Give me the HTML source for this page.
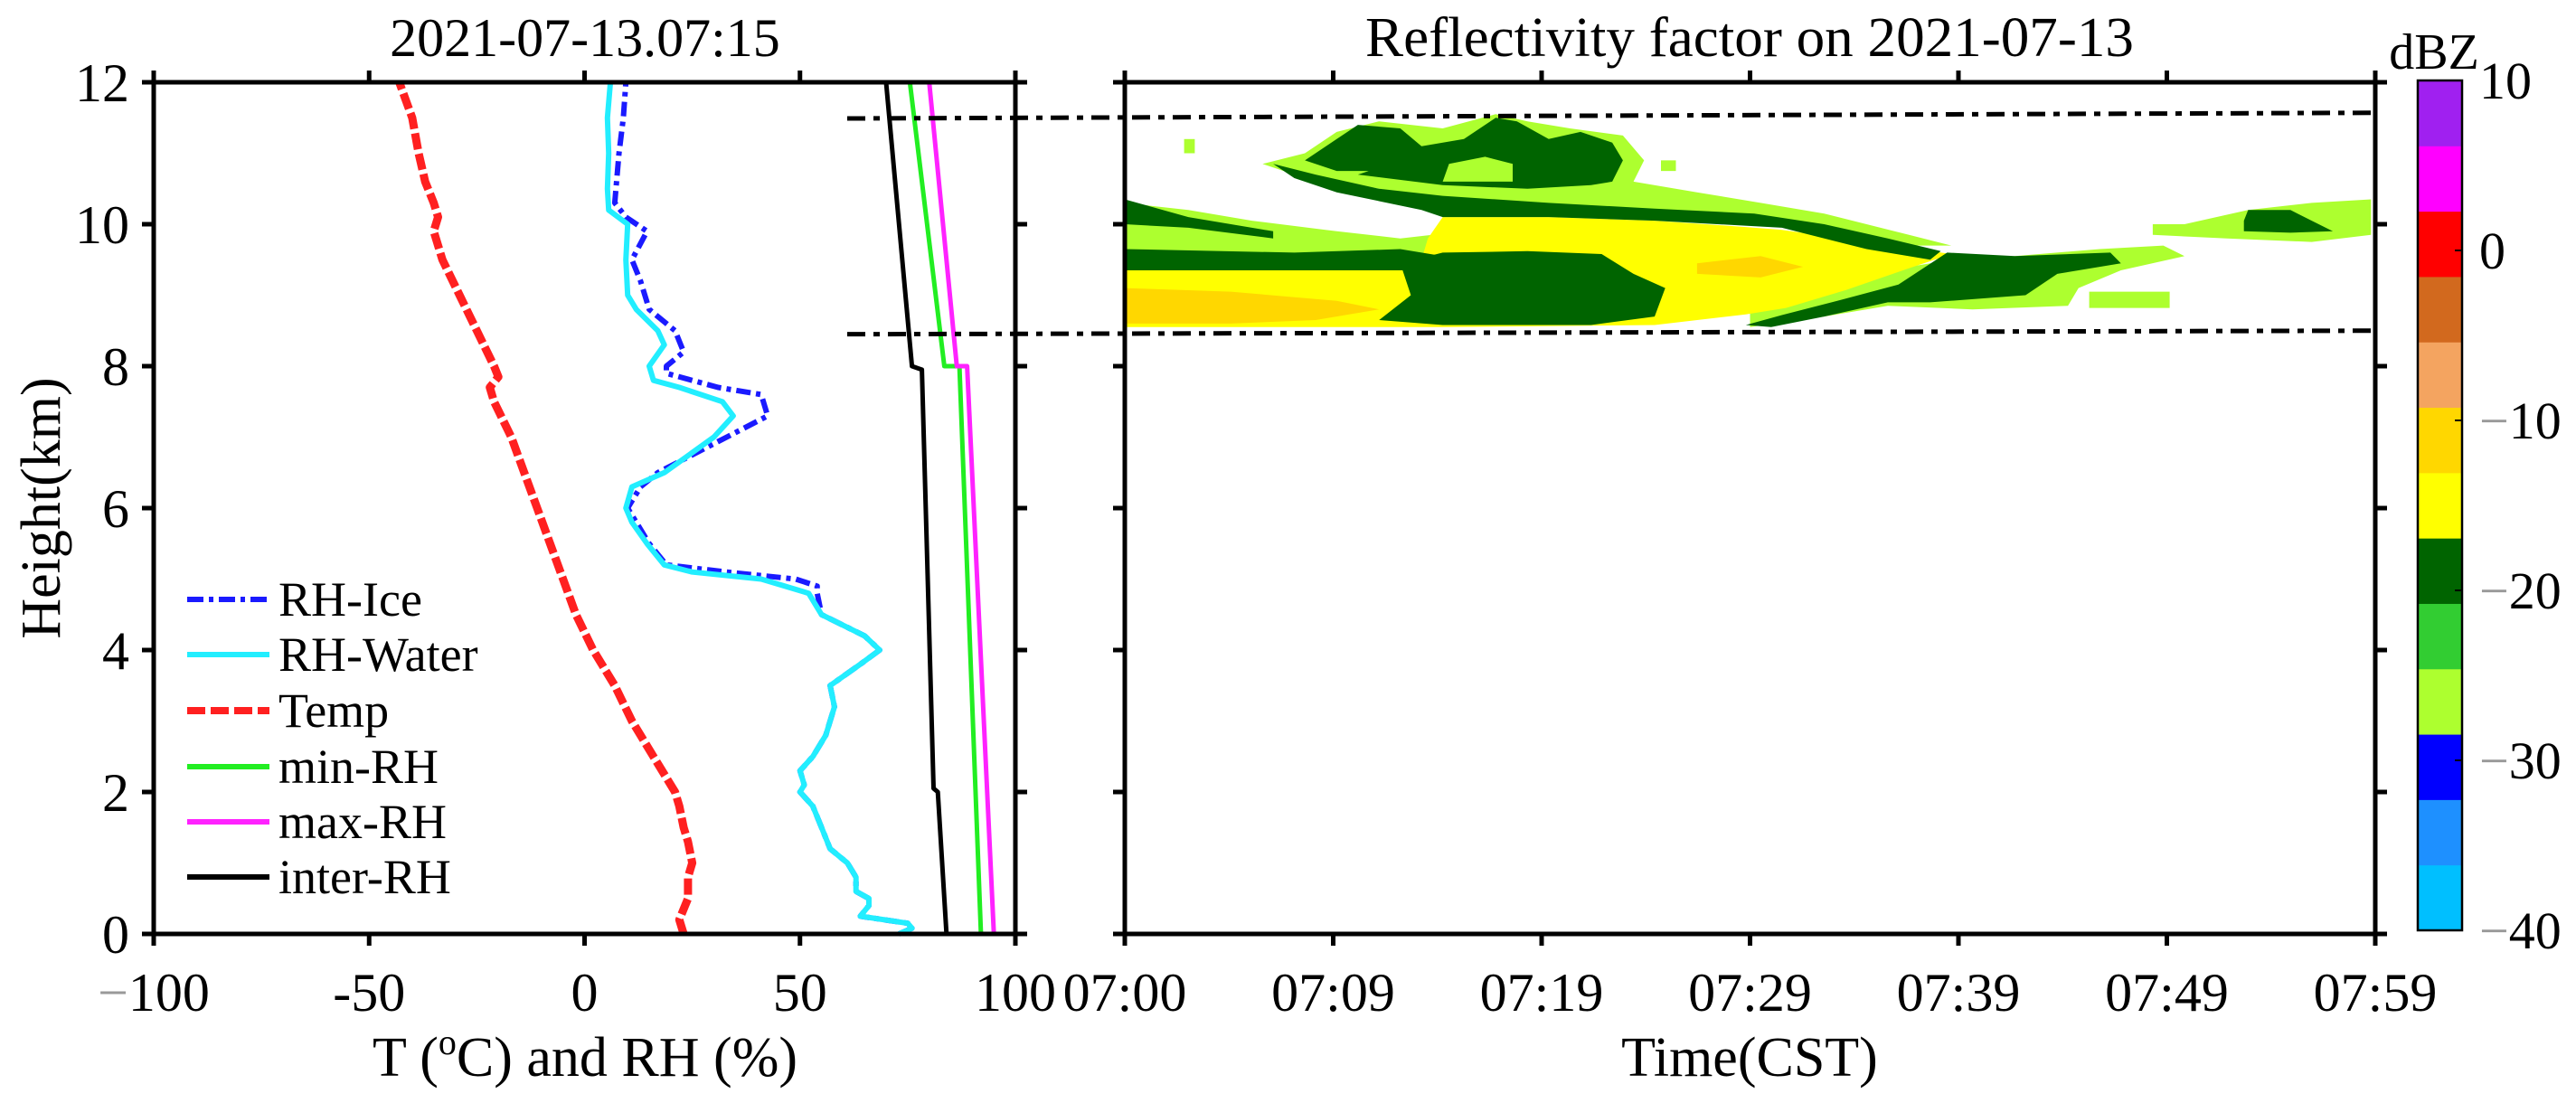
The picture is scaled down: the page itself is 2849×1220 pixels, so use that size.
<!DOCTYPE html>
<html><head><meta charset="utf-8"><style>
html,body{margin:0;padding:0;background:#fff;}
svg{display:block;font-family:"Liberation Serif",serif;}
</style></head>
<body>
<svg id="fig" width="2849" height="1220" viewBox="0 0 2849 1220" xmlns="http://www.w3.org/2000/svg">
<rect x="0" y="0" width="2849" height="1220" fill="#fff"/>
<g id="heat"></g>
<g id="lines"></g>
<g id="axes"></g>
<g id="cbar"></g>
<text x="647" y="62" font-size="60" text-anchor="middle">2021-07-13.07:15</text>
<text x="1935" y="62" font-size="62" text-anchor="middle" textLength="850" lengthAdjust="spacingAndGlyphs">Reflectivity factor on 2021-07-13</text>
<text x="647" y="1190" font-size="62" text-anchor="middle">T (<tspan font-size="40" dy="-24">o</tspan><tspan dy="24">C) and RH (%)</tspan></text>
<text x="1935" y="1190" font-size="62" text-anchor="middle">Time(CST)</text>
<text x="0" y="0" font-size="62" text-anchor="middle" transform="translate(66,562) rotate(-90)">Height(km)</text>
<text x="2692" y="76" font-size="56" text-anchor="middle">dBZ</text>
<g id="legend">
  <g><line x1="207" y1="663" x2="298" y2="663" stroke="#1a1aff" stroke-width="6" stroke-dasharray="18 6 5 6"/><text x="308" y="681" font-size="54">RH-Ice</text></g>
  <g><line x1="207" y1="724" x2="298" y2="724" stroke="#22eeff" stroke-width="6"/><text x="308" y="742" font-size="54">RH-Water</text></g>
  <g><line x1="207" y1="786" x2="298" y2="786" stroke="#ff2020" stroke-width="8" stroke-dasharray="20 6"/><text x="308" y="804" font-size="54">Temp</text></g>
  <g><line x1="207" y1="848" x2="298" y2="848" stroke="#22ee22" stroke-width="6"/><text x="308" y="866" font-size="54">min-RH</text></g>
  <g><line x1="207" y1="909" x2="298" y2="909" stroke="#ff22ff" stroke-width="6"/><text x="308" y="927" font-size="54">max-RH</text></g>
  <g><line x1="207" y1="970" x2="298" y2="970" stroke="#000" stroke-width="6"/><text x="308" y="988" font-size="54">inter-RH</text></g>
</g>
</svg>
<script>
// ---------- data ----------
const tempH = [0,0.2,0.5,0.8,1,1.3,1.5,1.8,2,2.3,2.5,3,3.5,4,4.5,5,5.5,6,6.5,7,7.5,7.7,7.85,8,8.5,9,9.5,9.9,10.1,10.3,10.6,11,11.5,12];
const tempV = [23,22,24,24,25,24,23,22,21,18,16,11,7,2,-2,-5,-8,-11,-14,-17,-21,-22,-20,-21,-25,-29,-33,-35,-34,-35,-37,-38.5,-40,-43];
const waterH = [0,0.08,0.15,0.25,0.4,0.5,0.6,0.8,1.0,1.2,1.5,1.8,2.0,2.1,2.3,2.5,2.8,3.0,3.2,3.5,3.8,4.0,4.2,4.5,4.8,5.0,5.1,5.2,5.5,5.8,6.0,6.3,6.5,7.0,7.3,7.5,7.7,7.8,8.0,8.3,8.5,8.8,9.0,9.5,10.0,10.2,10.5,11.0,11.5,12];
const waterV = [73,76,75,64,66,66,63,63,61,57,55,53,50,51,50,53,56,57,58,57,64,68.5,65,55,52,41,25,18.5,14.5,11,9.6,11,18.5,30,34.5,32,22,16,15,18.5,17,12,10,9.6,10,5.6,5.3,5.6,5.3,6];
const iceH = [0,0.08,0.15,0.25,0.4,0.5,0.6,0.8,1.0,1.2,1.5,1.8,2.0,2.1,2.3,2.5,2.8,3.0,3.2,3.5,3.8,4.0,4.2,4.5,4.8,4.9,5.0,5.1,5.2,5.5,5.8,6.0,6.3,6.5,7.0,7.3,7.6,7.7,7.9,8.0,8.2,8.5,8.8,9.2,9.5,9.9,10.1,10.3,11,11.5,12];
const iceV = [73,76,75,64,66,66,63,63,61,57,55,53,50,51,50,53,56,57,58,57,64,68.5,65,55,54,54,49,33,19,15,12,10,13,17,33,42.5,41,31,19,19,23,21,15,13,11,14.5,9.6,7,8,9,9.6];
const minH = [0,8,8,12];
const minV = [92,87,83.5,75.5];
const maxH = [0,8,8,12];
const maxV = [95,88.8,86.4,80];
const interH = [0,2,2.05,7.95,8,12];
const interV = [84,82,81,78.3,76,70];
const cloudTopH = [11.49, 11.57];
const cloudBaseH = [8.45, 8.5];
const xTicksL = [-100,-50,0,50,100];
const xTickLabelsL = ["\u2212100","-50","0","50","100"];
const yTicks = [0,2,4,6,8,10,12];
const timeTicks = [0,9.833,19.667,29.5,39.333,49.167,59];
const timeLabels = ["07:00","07:09","07:19","07:29","07:39","07:49","07:59"];
const cbarColors = ["#00bfff","#1e90ff","#0000ff","#adff2f","#32cd32","#006400","#ffff00","#ffd700","#f4a460","#d2691e","#ff0000","#ff00ff","#a020f0"];
const cbarTicks = [-40,-30,-20,-10,0,10];
const regionLevels = [-26,-26,-26,-26,-26,-15,-19,-19,-26,-19,-26,-19,-19,-19,-19,-11,-11,-26,-26];
const regionShapes = [
 [[0,9.55],[0,10.3],[3,10.2],[6,10.05],[10,9.9],[13,9.8],[14.5,9.85],[14.5,9.5],[0,9.45]],
 [[6.5,10.85],[8.5,11.0],[10,11.3],[12,11.45],[15,11.35],[17.5,11.55],[19,11.45],[21,11.35],[23.5,11.25],[24.5,10.9],[24,10.6],[27,10.45],[30,10.3],[33,10.15],[37,9.85],[39,9.7],[36,9.7],[30,10.05],[25,10.15],[20,10.25],[15,10.35],[11,10.55],[8,10.7]],
 [[29.5,8.55],[33,8.7],[36,8.85],[40,8.8],[44.5,8.85],[45,9.1],[47,9.35],[50,9.55],[49,9.7],[46,9.65],[42,9.55],[38,9.45],[35,9.3],[32,9.0],[29.5,8.75]],
 [[45.5,8.82],[49.3,8.82],[49.3,9.05],[45.5,9.05]],
 [[48.5,9.85],[52,9.8],[56,9.75],[58.8,9.85],[58.8,10.35],[56,10.3],[53,10.2],[50,10.0],[48.5,10.0]],
 [[0,8.55],[15,8.55],[25,8.58],[29.3,8.73],[31.2,8.82],[34,9.07],[36.9,9.37],[39,9.58],[35,9.75],[31,9.92],[29.3,9.96],[25,10.05],[20,10.1],[15,10.1],[14.3,9.8],[14,9.5],[13,9.4],[8,9.38],[0,9.4]],
 [[0,10.0],[3,9.95],[7,9.8],[7,9.9],[3,10.1],[0,10.35]],
 [[0,9.35],[14,9.35],[15,9.55],[13,9.65],[8,9.6],[0,9.65]],
 [[10,10.9],[12,11.1],[14,10.95],[17,11.1],[20,11.05],[22,10.95],[22,10.7],[18,10.6],[14,10.6],[11,10.7]],
 [[8.5,10.9],[10,11.2],[11,11.4],[13,11.35],[14,11.1],[16,11.2],[17.5,11.5],[18.5,11.45],[20,11.2],[21.5,11.3],[23,11.15],[23.5,10.9],[23,10.6],[22,10.55],[19,10.5],[15,10.55],[11,10.7],[13,10.9],[16,11.0],[19,10.95],[21,10.85],[19,10.7],[14,10.75],[10,10.75]],
 [[15,10.6],[15.3,10.85],[17,10.95],[18.3,10.85],[18.3,10.6]],
 [[7,10.85],[9,10.7],[12,10.5],[15,10.4],[20,10.3],[25,10.22],[29.7,10.15],[33,10.0],[36,9.8],[38.5,9.62],[38,9.5],[35,9.65],[31,9.95],[25,10.05],[20,10.1],[15,10.1],[14,10.2],[10,10.45],[8,10.65]],
 [[29.3,8.58],[31,8.72],[34,8.95],[36.5,9.15],[38.8,9.6],[42,9.55],[46.5,9.6],[47,9.45],[44,9.3],[42.5,9.0],[38,8.9],[36,8.9],[33,8.7],[30.5,8.55]],
 [[12,8.65],[15,8.58],[22,8.58],[25,8.7],[25.5,9.1],[24,9.3],[22.5,9.58],[19,9.62],[15,9.6],[13,9.45],[13.5,9.0]],
 [[52.8,9.9],[55,9.88],[57,9.9],[56,10.05],[55,10.2],[53,10.2],[52.8,10.05]],
 [[0,8.6],[0,9.1],[5,9.05],[10,8.92],[12,8.8],[9,8.65],[5,8.6]],
 [[27,9.3],[30,9.25],[32,9.4],[30,9.55],[27,9.45]],
 [[2.8,11.0],[3.3,11.0],[3.3,11.2],[2.8,11.2]],
 [[25.3,10.75],[26,10.75],[26,10.9],[25.3,10.9]]
];

// ---------- scales ----------
const L = {x0:170, x1:1123}, R = {x0:1244, x1:2627}, Y = {top:91, bot:1033};
const xL = v => L.x0 + (v + 100) / 200 * (L.x1 - L.x0);
const xR = t => R.x0 + t / 59 * (R.x1 - R.x0);
const yH = h => Y.bot - h / 12 * (Y.bot - Y.top);
const CB = {x:2674, w:49, top:89, bot:1029};
const yC = d => CB.bot - (d + 40) / 50 * (CB.bot - CB.top);
const colorFor = d => cbarColors[Math.max(0, Math.min(12, Math.floor((d + 40) / (50 / 13))))];
const NS = "http://www.w3.org/2000/svg";
function mk(tag, parent, attrs) {
  const e = document.createElementNS(NS, tag);
  for (const k in attrs) e.setAttribute(k, attrs[k]);
  parent.appendChild(e); return e;
}

// ---------- heatmap ----------
const heat = document.getElementById('heat');
regionShapes.forEach((pts, i) => {
  const p = mk('polygon', heat, {points: pts.map(q => xR(q[0]).toFixed(1) + ',' + yH(q[1]).toFixed(1)).join(' '), fill: colorFor(regionLevels[i])});
  
  
});

// ---------- profile lines ----------
const lines = document.getElementById('lines');
function series(H, V, name, attrs) {
  const d = H.map((h, i) => (i ? 'L' : 'M') + xL(V[i]).toFixed(1) + ',' + yH(h).toFixed(1)).join(' ');
  const p = mk('path', lines, Object.assign({d: d, fill: 'none', 'stroke-linejoin': 'round'}, attrs));
  
  
}
series(minH, minV, 'min-rh-line', {stroke: '#22ee22', 'stroke-width': 5});
series(maxH, maxV, 'max-rh-line', {stroke: '#ff22ff', 'stroke-width': 5});
series(interH, interV, 'inter-rh-line', {stroke: '#000', 'stroke-width': 5});
series(iceH, iceV, 'rh-ice-line', {stroke: '#1a1aff', 'stroke-width': 6, 'stroke-dasharray': '16 6 5 6'});
series(waterH, waterV, 'rh-water-line', {stroke: '#22eeff', 'stroke-width': 6});
series(tempH, tempV, 'temp-line', {stroke: '#ff2020', 'stroke-width': 9, 'stroke-dasharray': '18 5'});

const b1 = mk('line', lines, {x1: 937, y1: yH(cloudTopH[0]), x2: R.x1 - 4, y2: yH(cloudTopH[1]), stroke: '#000', 'stroke-width': 5, 'stroke-dasharray': '20 9 7 9'});


const b2 = mk('line', lines, {x1: 937, y1: yH(cloudBaseH[0]), x2: R.x1 - 4, y2: yH(cloudBaseH[1]), stroke: '#000', 'stroke-width': 5, 'stroke-dasharray': '20 9 7 9'});



// ---------- axes ----------
const axes = document.getElementById('axes');
const TL = 13;
[[L.x0, L.x1], [R.x0, R.x1]].forEach((px, k) => {
  const box = mk('rect', axes, {x: px[0], y: Y.top, width: px[1] - px[0], height: Y.bot - Y.top, fill: 'none', stroke: '#000', 'stroke-width': 5});
  
  
  yTicks.forEach(h => {
    const y = yH(h);
    mk('line', axes, {x1: px[0] - TL, y1: y, x2: px[0], y2: y, stroke: '#000', 'stroke-width': 5});
    mk('line', axes, {x1: px[1], y1: y, x2: px[1] + TL, y2: y, stroke: '#000', 'stroke-width': 5});
  });
});
yTicks.forEach(h => {
  const t = mk('text', axes, {x: 143, y: yH(h) + 21, 'font-size': 60, 'text-anchor': 'end'});
  t.textContent = String(h);
  
  
});
xTicksL.forEach((v, i) => {
  const x = xL(v);
  mk('line', axes, {x1: x, y1: Y.top - TL, x2: x, y2: Y.top, stroke: '#000', 'stroke-width': 5});
  mk('line', axes, {x1: x, y1: Y.bot, x2: x, y2: Y.bot + TL, stroke: '#000', 'stroke-width': 5});
  const t = mk('text', axes, {x: x, y: 1118, 'font-size': 60, 'text-anchor': 'middle'});
  const lab = xTickLabelsL[i];
  if (lab[0] === '\u2212') {
    const s = mk('tspan', t, {fill: '#999'}); s.textContent = '\u2212';
    const r = mk('tspan', t, {}); r.textContent = lab.slice(1);
  } else t.textContent = lab;
  
  
});
timeTicks.forEach((m, i) => {
  const x = xR(m);
  mk('line', axes, {x1: x, y1: Y.top - TL, x2: x, y2: Y.top, stroke: '#000', 'stroke-width': 5});
  mk('line', axes, {x1: x, y1: Y.bot, x2: x, y2: Y.bot + TL, stroke: '#000', 'stroke-width': 5});
  const t = mk('text', axes, {x: x, y: 1118, 'font-size': 60, 'text-anchor': 'middle'});
  t.textContent = timeLabels[i];
  
  
});

// ---------- colorbar ----------
const cbar = document.getElementById('cbar');
const segH = (CB.bot - CB.top) / cbarColors.length;
cbarColors.forEach((c, i) => {
  const r = mk('rect', cbar, {x: CB.x, y: CB.bot - (i + 1) * segH, width: CB.w, height: segH + 0.5, fill: c});
  
  
});
mk('rect', cbar, {x: CB.x, y: CB.top, width: CB.w, height: CB.bot - CB.top, fill: 'none', stroke: '#000', 'stroke-width': 2.5});
cbarTicks.forEach(d => {
  const y = yC(d);
  mk('line', cbar, {x1: CB.x + CB.w - 8, y1: y, x2: CB.x + CB.w, y2: y, stroke: '#000', 'stroke-width': 2});
  const t = mk('text', cbar, {x: 2742, y: y + 20, 'font-size': 58});
  if (d < 0) {
    const s = mk('tspan', t, {fill: '#999'}); s.textContent = '\u2212';
    const r = mk('tspan', t, {}); r.textContent = String(-d);
  } else t.textContent = String(d);
  
  
});
</script>
</body></html>
